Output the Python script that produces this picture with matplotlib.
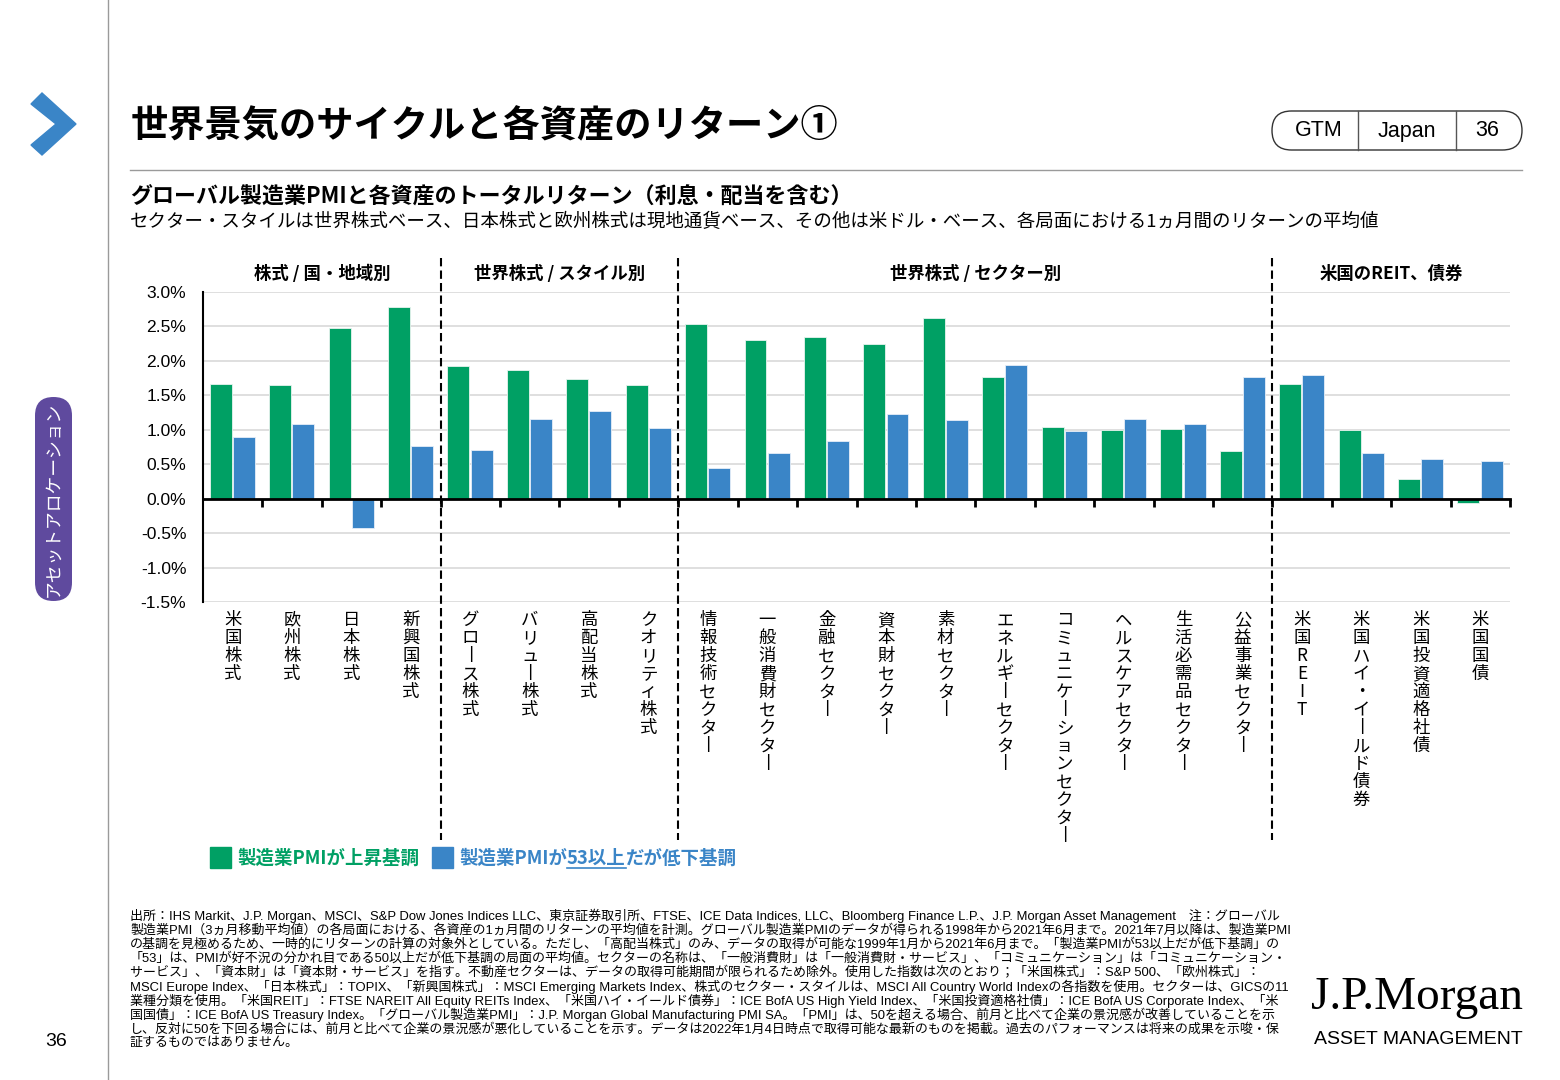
import numpy as np
import matplotlib
matplotlib.use("Agg")
import matplotlib.pyplot as plt
from matplotlib.patches import FancyBboxPatch, Polygon, Rectangle
from matplotlib.transforms import blended_transform_factory

plt.rcParams['font.family'] = ['Noto Sans CJK JP', 'DejaVu Sans']

# -----------------------------------------------------
# Data
# -----------------------------------------------------
groups = ["株式 / 国・地域別", "世界株式 / スタイル別", "世界株式 / セクター別", "米国のREIT、債券"]
group_sizes = [4, 4, 10, 4]

categories = [
    "米国株式", "欧州株式", "日本株式", "新興国株式",
    "グロース株式", "バリュー株式", "高配当株式", "クオリティ株式",
    "情報技術セクター", "一般消費財セクター", "金融セクター", "資本財セクター",
    "素材セクター", "エネルギーセクター", "コミュニケーションセクター",
    "ヘルスケアセクター", "生活必需品セクター", "公益事業セクター",
    "米国REIT", "米国ハイ・イールド債券", "米国投資適格社債", "米国国債",
]

# average 1-month return (%)
pmi_rising = [1.66, 1.65, 2.48, 2.78,
              1.93, 1.87, 1.73, 1.65,
              2.53, 2.30, 2.34, 2.24, 2.62, 1.76, 1.04, 0.99, 1.01, 0.69,
              1.67, 0.99, 0.29, -0.06]
pmi_falling = [0.89, 1.09, -0.42, 0.77,
               0.70, 1.15, 1.27, 1.02,
               0.45, 0.67, 0.84, 1.23, 1.14, 1.94, 0.98, 1.15, 1.09, 1.77,
               1.79, 0.67, 0.58, 0.55]

yticks = [-1.5, -1.0, -0.5, 0.0, 0.5, 1.0, 1.5, 2.0, 2.5, 3.0]

series_labels = ["製造業PMIが上昇基調", "製造業PMIが", "53以上", "だが低下基調"]

footnote_lines = [
    "出所：IHS Markit、J.P. Morgan、MSCI、S&P Dow Jones Indices LLC、東京証券取引所、FTSE、ICE Data Indices, LLC、Bloomberg Finance L.P.、J.P. Morgan Asset Management　注：グローバル",
    "製造業PMI（3ヵ月移動平均値）の各局面における、各資産の1ヵ月間のリターンの平均値を計測。グローバル製造業PMIのデータが得られる1998年から2021年6月まで。2021年7月以降は、製造業PMI",
    "の基調を見極めるため、一時的にリターンの計算の対象外としている。ただし、「高配当株式」のみ、データの取得が可能な1999年1月から2021年6月まで。「製造業PMIが53以上だが低下基調」の",
    "「53」は、PMIが好不況の分かれ目である50以上だが低下基調の局面の平均値。セクターの名称は、「一般消費財」は「一般消費財・サービス」、「コミュニケーション」は「コミュニケーション・",
    "サービス」、「資本財」は「資本財・サービス」を指す。不動産セクターは、データの取得可能期間が限られるため除外。使用した指数は次のとおり；「米国株式」：S&P 500、「欧州株式」：",
    "MSCI Europe Index、「日本株式」：TOPIX、「新興国株式」：MSCI Emerging Markets Index、株式のセクター・スタイルは、MSCI All Country World Indexの各指数を使用。セクターは、GICSの11",
    "業種分類を使用。「米国REIT」：FTSE NAREIT All Equity REITs Index、「米国ハイ・イールド債券」：ICE BofA US High Yield Index、「米国投資適格社債」：ICE BofA US Corporate Index、「米",
    "国国債」：ICE BofA US Treasury Index。「グローバル製造業PMI」：J.P. Morgan Global Manufacturing PMI SA。「PMI」は、50を超える場合、前月と比べて企業の景況感が改善していることを示",
    "し、反対に50を下回る場合には、前月と比べて企業の景況感が悪化していることを示す。データは2022年1月4日時点で取得可能な最新のものを掲載。過去のパフォーマンスは将来の成果を示唆・保",
    "証するものではありません。",
]

GREEN = "#00A064"
BLUE = "#3A85C7"
PURPLE = "#5F4A9E"
GRAY = "#9a9a9a"
LATIN = ['Liberation Sans', 'Noto Sans CJK JP']


def vertical(s):
    # stack characters top to bottom, long vowel mark turns upright
    return "\n".join("丨" if c == "ー" else c for c in s)


fig = plt.figure(figsize=(15.6, 10.8), dpi=100)

# page decoration layer in pixel coordinates
deco = fig.add_axes([0, 0, 1, 1], zorder=0)
deco.set_xlim(0, 1560)
deco.set_ylim(1080, 0)
deco.axis('off')

deco.plot([108, 108], [0, 1080], color=GRAY, lw=1)
deco.plot([130, 1522], [170, 170], color=GRAY, lw=1)
deco.add_patch(Polygon([(31, 104), (42, 93), (76, 124), (42, 155), (31, 145), (56, 124)],
                       closed=True, color="#3A85C7"))
deco.text(131, 126, "世界景気のサイクルと各資産のリターン①", fontsize=26.8, fontweight='bold',
          ha='left', va='center')

deco.add_patch(FancyBboxPatch((1272, 111), 250, 39, boxstyle="round,pad=0,rounding_size=19.5",
                              fc='white', ec='#333333', lw=1))
deco.plot([1358, 1358], [111, 150], color='#555555', lw=1)
deco.plot([1456, 1456], [111, 150], color='#555555', lw=1)
for xc, s in [(1319, "GTM"), (1407, "Japan"), (1487, "36")]:
    deco.text(xc, 131, s, fontsize=15.5, ha='center', va='center', family=LATIN)

deco.text(130, 197, "グローバル製造業PMIと各資産のトータルリターン（利息・配当を含む）",
          fontsize=15.8, fontweight='bold', ha='left', va='center')
deco.text(130, 222, "セクター・スタイルは世界株式ベース、日本株式と欧州株式は現地通貨ベース、その他は米ドル・ベース、各局面における1ヵ月間のリターンの平均値",
          fontsize=13.3, ha='left', va='center')

deco.add_patch(FancyBboxPatch((35, 397), 37, 204, boxstyle="round,pad=0,rounding_size=18.5",
                              fc=PURPLE, ec='none'))
deco.text(53.5, 499, "アセットアロケーション", rotation=90, color='white', fontsize=12.8,
          ha='center', va='center')
deco.text(56, 1041, "36", fontsize=14, ha='center', va='center', family=LATIN)

for i, line in enumerate(footnote_lines):
    deco.text(130, 916 + i * 14.15, line, fontsize=9.37, ha='left', va='center', family=LATIN)

deco.text(1523, 998, "J.P.Morgan", fontsize=34, ha='right', va='center', family='Liberation Serif')
deco.text(1523, 1040, "ASSET MANAGEMENT", fontsize=14, ha='right', va='center', family=LATIN)

# legend
deco.add_patch(Rectangle((210, 847), 21, 21, color=GREEN))
deco.add_patch(Rectangle((432, 847), 21, 21, color=BLUE))
deco.text(237, 858, series_labels[0], color=GREEN, fontsize=13.3, fontweight='bold',
          ha='left', va='center')
renderer = fig.canvas.get_renderer()
xpos = 459
for k, part in enumerate(series_labels[1:]):
    t = deco.text(xpos, 858, part, color=BLUE, fontsize=13.3, fontweight='bold',
                  ha='left', va='center')
    bb = t.get_window_extent(renderer)
    if k == 1:
        deco.plot([xpos, xpos + bb.width], [868, 868], color=BLUE, lw=1.2)
    xpos += bb.width

# -----------------------------------------------------
# Chart
# -----------------------------------------------------
ax = fig.add_axes([203 / 1560, 1 - 602 / 1080, (1510 - 203) / 1560, (602 - 292) / 1080], zorder=1)
ax.patch.set_alpha(0)
n = len(categories)
x = np.arange(n)
ax.bar(x + 0.30, pmi_rising, width=0.37, color=GREEN, edgecolor='#e8f4ee', linewidth=0.6, zorder=3)
ax.bar(x + 0.69, pmi_falling, width=0.37, color=BLUE, edgecolor='#e6eef8', linewidth=0.6, zorder=3)

ax.set_xlim(0, n)
ax.set_ylim(-1.5, 3.0)
ax.set_yticks(yticks)
ax.set_yticklabels([f"{v:.1f}%" for v in yticks], family=LATIN, fontsize=12.6)
ax.yaxis.grid(True, color='#d9d9d9', lw=1.2)
ax.set_axisbelow(True)
ax.tick_params(axis='y', length=0, pad=12)

ax.spines['top'].set_visible(False)
ax.spines['right'].set_visible(False)
ax.spines['left'].set_linewidth(1.5)
ax.spines['bottom'].set_position(('data', 0))
ax.spines['bottom'].set_linewidth(2)
ax.spines['bottom'].set_zorder(4)
ax.set_xticks(np.arange(1, n + 1))
ax.set_xticklabels([])
ax.tick_params(axis='x', direction='out', length=6, width=2, color='black')

trans = blended_transform_factory(ax.transData, ax.transAxes)
for i, cat in enumerate(categories):
    ax.text(i + 0.5, -0.03, vertical(cat), transform=trans, ha='center', va='top',
            fontsize=12.5, linespacing=1.0)

start = 0
for name, size in zip(groups, group_sizes):
    ax.text(start + size / 2, 1.058, name, transform=trans, ha='center', va='center',
            fontsize=12.5, fontweight='bold')
    start += size
    if start < n:
        ax.plot([start, start], [1.11, -0.768], transform=trans, clip_on=False,
                color='black', lw=1.5, dashes=(4, 2), zorder=5)

fig.savefig("out.png", dpi=100)
